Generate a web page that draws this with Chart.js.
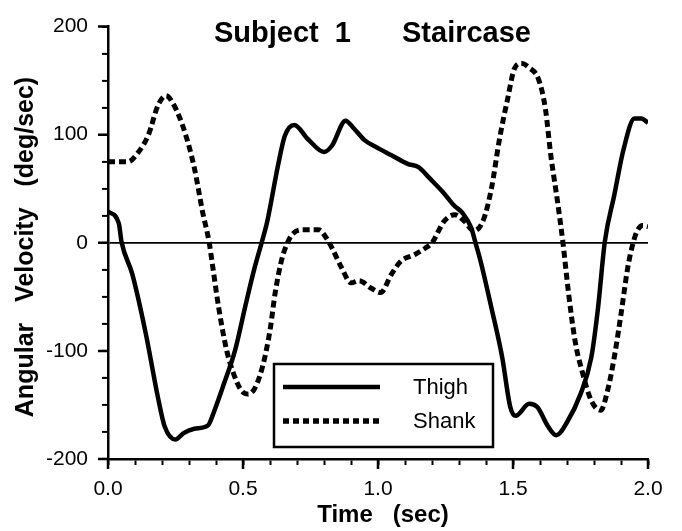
<!DOCTYPE html>
<html>
<head>
<meta charset="utf-8">
<script src="https://cdn.jsdelivr.net/npm/chart.js@4.4.1/dist/chart.umd.min.js"></script>
<style>
  html, body { margin: 0; padding: 0; background: #fff; }
  #chart { display: block; }
</style>
</head>
<body>
<canvas id="chart" width="682" height="531"></canvas>
<script>
// values
const thighTime = [0.0, 0.04, 0.05, 0.09, 0.14, 0.185, 0.21, 0.25, 0.28, 0.32,
    0.37, 0.39, 0.43, 0.47, 0.51, 0.54, 0.57, 0.59, 0.63, 0.655,
    0.69, 0.74, 0.80, 0.83, 0.88, 0.91, 0.95, 0.99, 1.05, 1.11,
    1.15, 1.19, 1.24, 1.28, 1.315, 1.345, 1.36, 1.38, 1.42, 1.46,
    1.49, 1.51, 1.56, 1.59, 1.63, 1.66, 1.70, 1.75, 1.79, 1.815,
    1.84, 1.875, 1.91, 1.95, 1.975, 2.0];
const thighVel = [29, 18, 1, -29, -84, -143, -170, -182, -176, -172,
    -169, -158, -130, -100, -57, -26, 1, 20, 72, 99,
    109, 96, 84, 90, 113, 106, 95, 89, 81, 73,
    70, 60, 47, 35, 27, 14, 1, -17, -60, -106,
    -152, -160, -149, -152, -170, -178, -166, -140, -106, -60,
    1, 44, 87, 115, 115, 111];

const shankTime = [0.0, 0.075, 0.11, 0.15, 0.185, 0.215, 0.245, 0.285, 0.32, 0.35,
    0.375, 0.385, 0.41, 0.44, 0.465, 0.495, 0.52, 0.545, 0.575, 0.60,
    0.62, 0.645, 0.665, 0.68, 0.715, 0.78, 0.81, 0.83, 0.865, 0.90,
    0.93, 0.975, 1.01, 1.05, 1.085, 1.135, 1.175, 1.20, 1.21, 1.245,
    1.285, 1.32, 1.355, 1.39, 1.42, 1.45, 1.48, 1.505, 1.53, 1.56,
    1.595, 1.62, 1.64, 1.665, 1.685, 1.705, 1.73, 1.755, 1.79, 1.825,
    1.85, 1.875, 1.90, 1.925, 1.945, 1.96, 1.98, 2.0];
const shankVel = [75, 75, 83, 100, 127, 136, 127, 102, 69, 29,
    0, -17, -60, -100, -121, -137, -140, -134, -112, -81,
    -45, -14, 0, 7, 12, 12, 4, -5, -23, -37,
    -35, -42, -46, -29, -17, -11, -5, 0, 4, 20,
    26, 20, 11, 21, 50, 96, 133, 161, 166, 162,
    151, 124, 81, 38, 0, -45, -91, -118, -146, -155,
    -137, -106, -66, -23, 0, 11, 16, 15];

const xTickLabels = ['0.0', '0.5', '1.0', '1.5', '2.0'];
const yTickLabels = [-200, -100, 0, 100, 200];
const seriesNames = ['Thigh', 'Shank'];

const FONT = "'Liberation Sans', Arial, Helvetica, sans-serif";

function toPoints(ts, vs) {
    return ts.map((t, i) => ({ x: t, y: vs[i] }));
}

// title, axis titles, major tick extensions and the boxed legend
const decorations = {
    id: 'decorations',
    afterDraw(chart) {
        const ctx = chart.ctx;
        const xs = chart.scales.x;
        const ys = chart.scales.y;
        const area = chart.chartArea;
        ctx.save();
        ctx.fillStyle = '#000';
        ctx.strokeStyle = '#000';

        // longer major ticks
        ctx.lineWidth = 2.5;
        ctx.beginPath();
        yTickLabels.forEach(v => {
            const py = ys.getPixelForValue(v);
            ctx.moveTo(area.left - 10, py);
            ctx.lineTo(area.left, py);
        });
        xTickLabels.forEach(s => {
            const px = xs.getPixelForValue(parseFloat(s));
            ctx.moveTo(px, area.bottom);
            ctx.lineTo(px, area.bottom + 10);
        });
        ctx.stroke();

        // chart title
        ctx.font = 'bold 29px ' + FONT;
        ctx.textAlign = 'left';
        ctx.textBaseline = 'alphabetic';
        ctx.fillText('Subject  1', 214, 42);
        ctx.fillText('Staircase', 402, 42);

        // x axis title
        ctx.font = 'bold 24px ' + FONT;
        ctx.textAlign = 'center';
        ctx.fillText('Time   (sec)', 383, 522);

        // y axis title
        ctx.save();
        ctx.translate(33, 247);
        ctx.rotate(-Math.PI / 2);
        ctx.font = 'bold 25px ' + FONT;
        ctx.fillText('Angular   Velocity   (deg/sec)', 0, 0);
        ctx.restore();

        // legend box
        const bx = 274, by = 364, bw = 219, bh = 83;
        ctx.fillStyle = '#fff';
        ctx.fillRect(bx, by, bw, bh);
        ctx.lineWidth = 2.5;
        ctx.strokeRect(bx, by, bw, bh);

        ctx.lineWidth = 4.5;
        ctx.beginPath();
        ctx.moveTo(283, 387);
        ctx.lineTo(380, 387);
        ctx.stroke();

        ctx.lineWidth = 5.5;
        ctx.setLineDash([6, 4]);
        ctx.beginPath();
        ctx.moveTo(283, 421);
        ctx.lineTo(380, 421);
        ctx.stroke();
        ctx.setLineDash([]);

        ctx.fillStyle = '#000';
        ctx.font = '22px ' + FONT;
        ctx.textAlign = 'left';
        ctx.textBaseline = 'middle';
        ctx.fillText(seriesNames[0], 413, 388);
        ctx.fillText(seriesNames[1], 413, 422);
        ctx.restore();
    }
};

document.addEventListener('DOMContentLoaded', () => {
    const ctx = document.getElementById('chart').getContext('2d');
    new Chart(ctx, {
        type: 'line',
        data: {
            datasets: [
                {
                    label: seriesNames[0],
                    data: toPoints(thighTime, thighVel),
                    borderColor: '#000',
                    borderWidth: 4.5,
                    pointRadius: 0,
                    cubicInterpolationMode: 'monotone',
                    fill: false
                },
                {
                    label: seriesNames[1],
                    data: toPoints(shankTime, shankVel),
                    borderColor: '#000',
                    borderWidth: 5,
                    borderDash: [7, 4],
                    pointRadius: 0,
                    cubicInterpolationMode: 'monotone',
                    fill: false
                }
            ]
        },
        options: {
            responsive: false,
            animation: false,
            devicePixelRatio: 1,
            layout: { padding: { top: 24, right: 34, bottom: 0, left: 0 } },
            plugins: {
                legend: { display: false },
                title: { display: false },
                tooltip: { enabled: false }
            },
            scales: {
                x: {
                    type: 'linear',
                    min: 0,
                    max: 2,
                    afterFit: s => { s.height = 72; },
                    border: { color: '#000', width: 2.5 },
                    grid: {
                        drawOnChartArea: false,
                        tickLength: 6,
                        tickColor: '#000',
                        tickWidth: 2
                    },
                    ticks: {
                        stepSize: 0.1,
                        autoSkip: false,
                        maxRotation: 0,
                        padding: 12,
                        color: '#000',
                        font: { family: FONT, size: 21 },
                        callback: v => {
                            const s = v.toFixed(1);
                            const half = Math.abs(v * 2 - Math.round(v * 2)) < 1e-6;
                            return half && xTickLabels.includes(s) ? s : '';
                        }
                    }
                },
                y: {
                    min: -200,
                    max: 200,
                    afterFit: s => { s.width = 108; },
                    border: { color: '#000', width: 2.5 },
                    grid: {
                        color: c => (c.tick && c.tick.value === 0 ? '#000' : 'rgba(0,0,0,0)'),
                        lineWidth: 1.8,
                        tickLength: 6,
                        tickColor: '#000',
                        tickWidth: 2
                    },
                    ticks: {
                        stepSize: 25,
                        autoSkip: false,
                        padding: 14,
                        color: '#000',
                        font: { family: FONT, size: 21 },
                        callback: v => (yTickLabels.includes(v) ? String(v) : '')
                    }
                }
            }
        },
        plugins: [decorations]
    });
});
</script>
</body>
</html>
